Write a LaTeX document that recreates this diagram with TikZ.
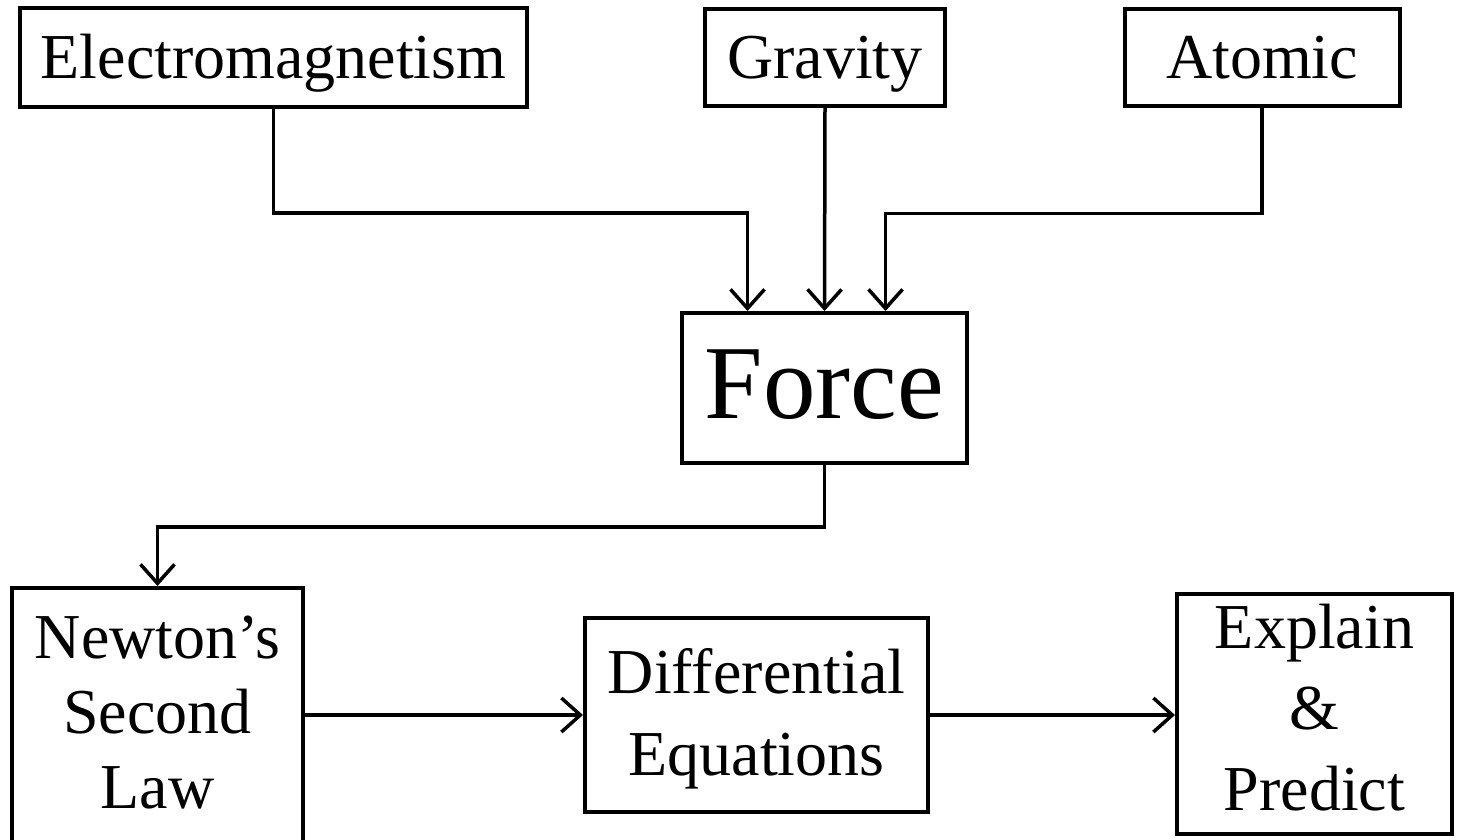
\documentclass[tikz,border=0pt]{standalone}
\usepackage{fontspec}
\setmainfont{Liberation Serif}
\usetikzlibrary{arrows.meta, calc}

\begin{document}
\begin{tikzpicture}[x=1pt, y=-1pt,
        box/.style={draw, line width=4pt, inner sep=0pt, align=center,
                    font=\fontsize{64}{77}\selectfont},
        oneline/.style={text height=42pt, text depth=0pt},
        arr/.style={line width=3.5pt, -{Straight Barb[length=19pt, width=34pt, line width=3.5pt]}}]
                \useasboundingbox (0,0) rectangle (1464,839);
                \clip (0,0) rectangle (1464,839);
                % sources of force
                \node[box, oneline, minimum width=507pt, minimum height=99pt] (elec) at (273.5,57.5) {Electromagnetism};
                \node[box, oneline, minimum width=240pt, minimum height=97pt] (grav) at (825,57) {Gravity};
                \node[box, oneline, minimum width=275pt, minimum height=97pt] (atom) at (1262,57) {Atomic};
                \node[box, minimum width=285pt, minimum height=150pt, text height=70pt, text depth=10pt,
                      font=\fontsize{105}{120}\selectfont] (force) at (824.5,388) {Force};
                % bottom row
                \node[box, minimum width=291pt, minimum height=254pt, text height=186pt, text depth=0pt,
                      font=\fontsize{64}{75}\selectfont] (newton) at (157.5,715) {Newton's\\Second\\Law};
                \node[box, minimum width=343pt, minimum height=194pt, text height=120pt, text depth=0pt,
                      font=\fontsize{64}{82}\selectfont] (diff) at (756.5,715) {Differential\\Equations};
                \node[box, minimum width=275pt, minimum height=240pt, text height=192pt, text depth=0pt,
                      font=\fontsize{64}{81}\selectfont] (expl) at (1314.5,714) {Explain\\\&\\Predict};
                % connectors
                \draw[arr] (elec.south) -- ++(0,104) -| ([xshift=-77pt]force.north);
                \draw[arr] (grav.south) -- (force.north);
                \draw[arr] (atom.south) -- ++(0,106) -| ([xshift=61pt]force.north);
                \draw[arr] (force.south) -- ++(0,62) -| (newton.north);
                \draw[arr] (newton.east) -- (diff.west);
                \draw[arr] (diff.east) -- (diff.east -| expl.west);
            \end{tikzpicture}
\end{document}
